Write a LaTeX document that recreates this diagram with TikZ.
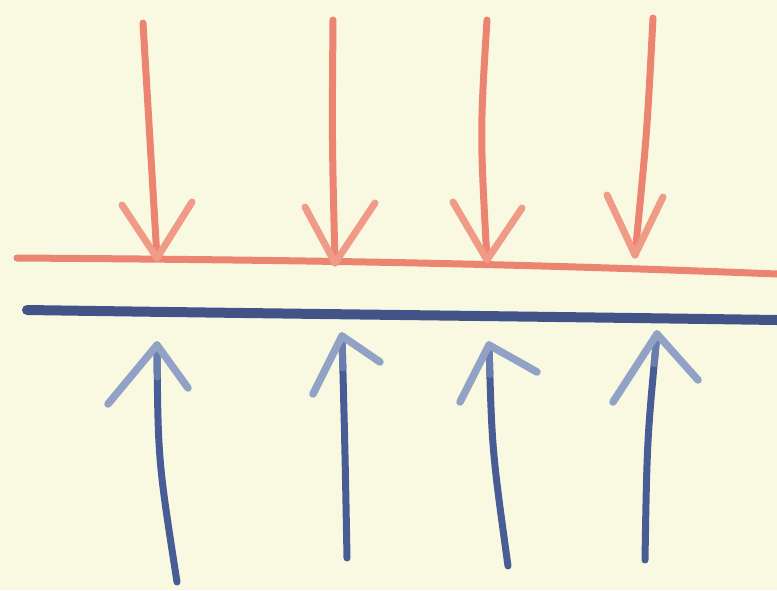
\documentclass[tikz,border=0pt]{standalone}
\usetikzlibrary{calc}
\begin{document}
\begin{tikzpicture}[x=1pt,y=-1pt,line cap=round,line join=round,
  redpen/.style={draw=redc,line width=7pt},
  redarm/.style={draw=redc!80!paper,line width=7pt},
  bluepen/.style={draw=bluec,line width=7pt},
  bluemid/.style={draw=bluemd,line width=7pt},
  bluearm/.style={draw=bluelt,line width=7.5pt},
  blueline/.style={draw=bluec!90!black,line width=10pt}]
\definecolor{paper}{RGB}{249,249,226}
\definecolor{redc}{RGB}{236,132,114}
\definecolor{bluec}{RGB}{72,92,150}
\definecolor{bluemd}{RGB}{105,125,175}
\definecolor{bluelt}{RGB}{145,162,198}
\fill[paper] (0,0) rectangle (777,590);
\useasboundingbox (0,0) rectangle (777,590);
% red line
\coordinate (rl0) at (17,258); \coordinate (rl1) at (777,274);
\draw[redpen] (rl0) .. controls (300,260) and (500,263) .. (rl1);
% red arrows
\foreach \n/\tx/\ty/\mx/\my/\bx/\by/\lx/\ly/\rx/\ry in {
  1/143/23/150/140/157/258/122/205/192/202,
  2/333/20/332/140/335/263/305/207/375/203,
  3/487/20/480/133/487/260/453/202/522/208,
  4/653/18/647/133/635/255/607/195/663/197}{
  \coordinate (rt\n) at (\tx,\ty);
  \coordinate (rb\n) at (\bx,\by);
  \draw[redpen] (rt\n) .. controls (\mx,\my) .. (rb\n);
  \draw[redarm] (\lx,\ly) -- (rb\n) -- (\rx,\ry);
}
% blue line
\coordinate (bl0) at (27,310); \coordinate (bl1) at (777,320);
\draw[blueline] (bl0) .. controls (300,314) and (500,316) .. (bl1);
% blue arrows
\foreach \n/\tx/\ty/\mx/\my/\bx/\by/\lx/\ly/\rx/\ry in {
  1/157/345/158/460/177/582/108/404/188/388,
  2/342/336/345/450/347/558/313/394/380/362,
  3/489/345/492/450/508/566/460/402/537/372,
  4/657/334/647/440/645/560/613/402/698/380}{
  \coordinate (bt\n) at (\tx,\ty);
  \coordinate (bb\n) at (\bx,\by);
  \draw[bluepen] (bb\n) .. controls (\mx,\my) .. (bt\n);
  \draw[bluemid] (bt\n) -- ($(bt\n)!0.28!(\mx,\my)$);
  \draw[bluearm] (\lx,\ly) -- (bt\n) -- (\rx,\ry);
}
\end{tikzpicture}
\end{document}
